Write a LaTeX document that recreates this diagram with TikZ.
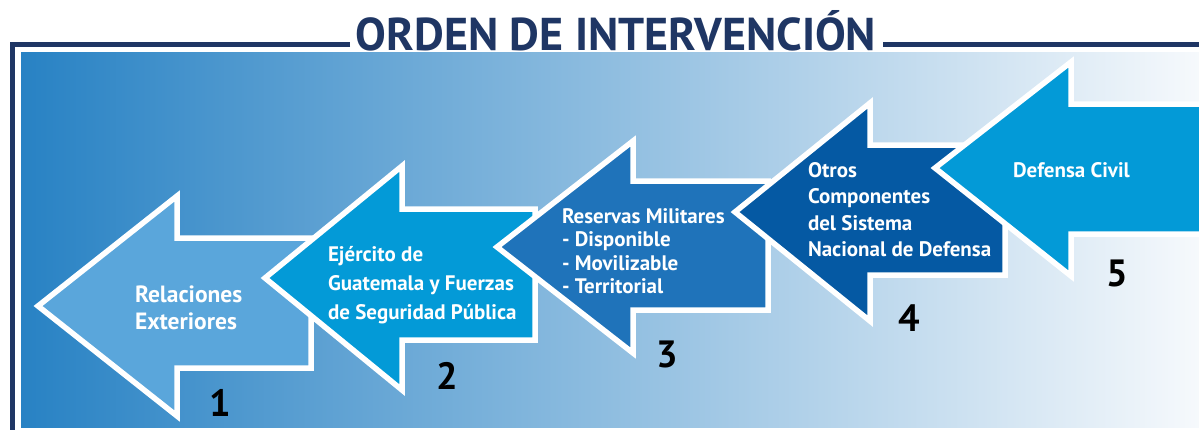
\documentclass[tikz,border=0pt]{standalone}
\usepackage{fontspec}
\setmainfont{PT Sans}
\usepackage{color}
\definecolor{marino}{RGB}{31,54,100}
\definecolor{celeste}{RGB}{90,166,219}
\definecolor{cian}{RGB}{3,154,215}
\definecolor{azulmedio}{RGB}{31,115,186}
\definecolor{azuloscuro}{RGB}{5,89,163}
\definecolor{fondoizq}{RGB}{40,130,196}
\definecolor{fondomed}{RGB}{140,188,224}
\definecolor{fondoder}{RGB}{246,249,252}

\begin{document}
\begin{tikzpicture}[x=1pt,y=-1pt]
        \tikzstyle{every node}=[inner sep=0pt,outer sep=0pt]
        \tikzstyle{flecha}=[draw=white,line width=5.5pt,line join=miter]
        \tikzstyle{rotulo}=[text=white,font=\bfseries\fontsize{21}{26.5}\selectfont,align=left,anchor=base west]
        \tikzstyle{numero}=[font=\bfseries\fontsize{38}{38}\selectfont,anchor=base]
        \tikzstyle{titulo}=[text=marino,font=\bfseries\fontsize{46}{46}\selectfont,anchor=base]
        \useasboundingbox (0,0) rectangle (1199,429);
        \clip (0,0) rectangle (1199,429);
        \begin{scope}
           % marco y fondo
           \shade[left color=fondoizq,middle color=fondomed,right color=fondoder] (21,52) rectangle (1199,427);
           \draw[marino,line width=5pt] (350,44.5) -- (12.5,44.5) -- (12.5,432);
           \draw[marino,line width=5pt] (883,44.5) -- (1205,44.5);

           \node[titulo] (titulo) at (616,50) {ORDEN DE INTERVENCIÓN};

           % flechas, de la primera a la quinta
           \filldraw[flecha,fill=celeste] (38,306) -- (177,196) -- (177,238) -- (311,238) -- (311,368) -- (177,368) -- (177,416) -- cycle;

           \filldraw[flecha,fill=cian] (265,278) -- (402,166) -- (402,209) -- (535,209) -- (535,340) -- (402,340) -- (402,390) -- cycle;

           \filldraw[flecha,fill=azulmedio] (497,247) -- (633,141) -- (633,181) -- (768,181) -- (768,310) -- (633,310) -- (633,353) -- cycle;

           \filldraw[flecha,fill=azuloscuro] (735,212) -- (870,103) -- (870,145) -- (1005,145) -- (1005,275) -- (870,275) -- (870,321) -- cycle;

           \filldraw[flecha,fill=cian] (935,168) -- (1071,62) -- (1071,104) -- (1215,104) -- (1215,234) -- (1071,234) -- (1071,276) -- cycle;

           % textos (base = ultima linea)
           \node[rotulo,font=\bfseries\fontsize{23.5}{27}\selectfont] (relaciones) at (135,329) {Relaciones\\Exteriores};
           \node[rotulo,font=\bfseries\fontsize{21}{29}\selectfont] (ejercito) at (328,319) {Ejército de\\Guatemala y Fuerzas\\de Seguridad Pública};
           \node[rotulo,font=\bfseries\fontsize{21}{23.5}\selectfont] (reservas) at (562,293.5) {Reservas Militares\\- Disponible\\- Movilizable\\- Territorial};
           \node[rotulo] (otros) at (808,256.5) {Otros\\Componentes\\del Sistema\\Nacional de Defensa};
           \node[rotulo] (defensa) at (1013,177) {Defensa Civil};

           \foreach\n/\x/\y in {1/220/416,2/447/389,3/667/367,4/909/331,5/1117/286}{
               \node[numero] (num\n) at (\x,\y) {\n};
           }
        \end{scope}
\end{tikzpicture}
\end{document}
